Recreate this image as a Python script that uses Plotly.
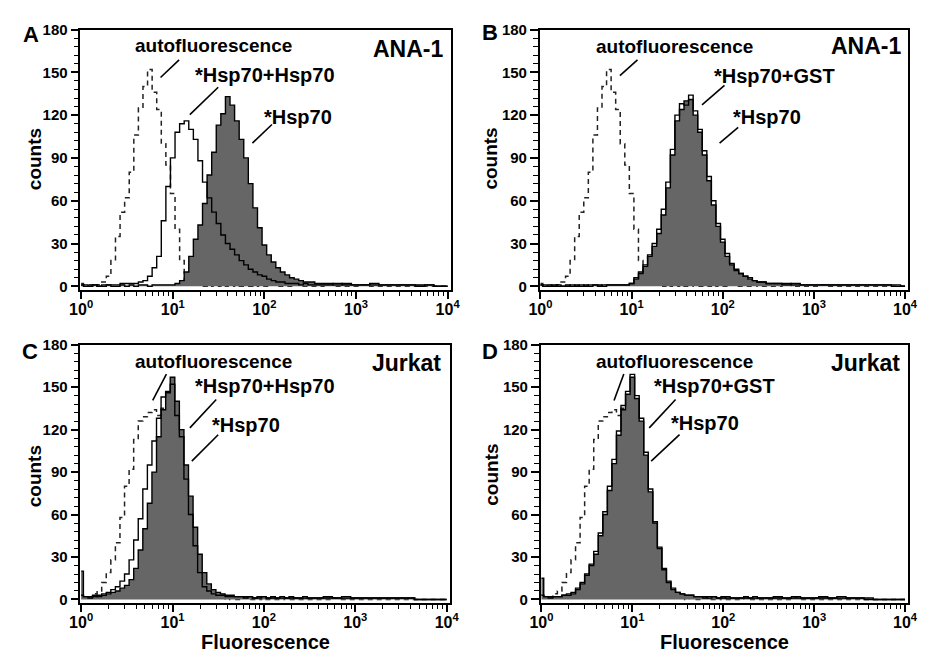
import plotly.graph_objects as go

# ---------------- data ----------------
# log10 of the fluorescence channel centres
LOG_CH = [0.00, 0.05, 0.10, 0.15, 0.20, 0.25, 0.30, 0.35, 0.40, 0.45,
          0.50, 0.55, 0.60, 0.65, 0.70, 0.75, 0.80, 0.85, 0.90, 0.95,
          1.00, 1.05, 1.10, 1.15, 1.20, 1.25, 1.30, 1.35, 1.40, 1.45,
          1.50, 1.55, 1.60, 1.65, 1.70, 1.75, 1.80, 1.85, 1.90, 1.95,
          2.00, 2.05, 2.10, 2.15, 2.20, 2.25, 2.30, 2.35, 2.40, 2.45,
          2.50, 2.60, 2.70, 2.80, 2.90, 3.00, 3.10, 3.20, 3.30, 3.40,
          3.50, 3.60, 3.70, 3.80, 3.90, 4.00]

AUTO_ANA1 = [2, 1, 1, 0, 1, 3, 7, 18, 35, 52,
             62, 80, 106, 125, 140, 152, 136, 124, 100, 85,
             65, 40, 18, 5, 2, 1, 1, 0, 1, 0,
             0, 1, 0, 0, 1, 0, 0, 0, 1, 0,
             0, 0, 1, 0, 0, 0, 0, 1, 0, 0,
             0, 0, 1, 0, 0, 0, 1, 0, 0, 0,
             0, 0, 0, 0, 0, 0]

A_HSP70_HSP70 = [1, 1, 0, 1, 0, 1, 1, 1, 1, 2,
                 2, 2, 2, 3, 4, 7, 13, 21, 46, 70,
                 90, 108, 114, 116, 110, 103, 88, 73, 62, 52,
                 44, 36, 30, 26, 22, 18, 15, 12, 10, 8,
                 7, 5, 4, 3, 3, 2, 2, 2, 1, 2,
                 1, 1, 1, 2, 1, 1, 1, 2, 1, 1,
                 1, 1, 0, 1, 0, 0]

A_HSP70 = [1, 0, 0, 1, 0, 0, 1, 0, 0, 1,
           0, 1, 0, 1, 1, 0, 1, 1, 1, 1,
           1, 2, 4, 10, 21, 33, 43, 58, 78, 94,
           113, 121, 133, 127, 116, 103, 90, 72, 55, 41,
           29, 22, 17, 13, 10, 8, 6, 5, 4, 3,
           3, 2, 2, 1, 2, 1, 1, 1, 1, 1,
           1, 1, 1, 1, 0, 0]

B_HSP70_GST = [1, 1, 0, 0, 1, 0, 0, 1, 0, 1,
               0, 1, 1, 0, 1, 1, 1, 1, 1, 1,
               2, 6, 10, 15, 22, 30, 40, 54, 73, 96,
               120, 128, 127, 134, 123, 110, 95, 77, 60, 44,
               33, 23, 16, 12, 9, 7, 6, 4, 3, 3,
               2, 2, 1, 2, 1, 1, 1, 1, 1, 1,
               1, 1, 1, 1, 1, 0]

B_HSP70 = [1, 0, 0, 1, 0, 0, 1, 0, 1, 0,
           1, 0, 1, 1, 0, 1, 1, 1, 1, 1,
           2, 5, 9, 14, 21, 28, 37, 50, 69, 92,
           116, 124, 130, 131, 120, 108, 92, 74, 57, 42,
           31, 21, 15, 11, 9, 7, 5, 4, 3, 3,
           2, 2, 2, 1, 1, 1, 1, 1, 1, 1,
           1, 1, 1, 1, 0, 0]

AUTO_JURKAT = [3, 2, 2, 4, 6, 12, 19, 28, 40, 58,
               80, 92, 113, 126, 129, 132, 134, 130, 135, 126,
               111, 89, 61, 37, 19, 10, 5, 3, 2, 1,
               1, 1, 0, 1, 0, 0, 1, 0, 0, 0,
               1, 0, 0, 0, 0, 1, 0, 0, 0, 0,
               0, 0, 0, 1, 0, 0, 0, 0, 0, 0,
               0, 0, 0, 0, 0, 0]

C_HSP70_HSP70 = [3, 2, 1, 3, 2, 4, 5, 7, 9, 13,
                 18, 28, 42, 57, 78, 95, 112, 128, 143, 147,
                 152, 130, 115, 85, 60, 38, 19, 9, 6, 4,
                 3, 3, 2, 2, 2, 2, 1, 2, 1, 1,
                 2, 1, 1, 1, 2, 1, 1, 1, 1, 2,
                 1, 1, 1, 1, 2, 1, 1, 1, 1, 1,
                 1, 1, 0, 0, 0, 0]

C_HSP70 = [20, 2, 2, 2, 3, 3, 4, 5, 6, 8,
           10, 14, 22, 35, 50, 68, 90, 115, 134, 146,
           157, 140, 120, 95, 73, 51, 32, 19, 11, 7,
           5, 4, 3, 3, 2, 2, 2, 2, 1, 2,
           2, 1, 2, 1, 1, 1, 2, 1, 1, 1,
           1, 1, 2, 1, 1, 1, 1, 1, 1, 1,
           1, 1, 0, 0, 0, 0]

D_HSP70_GST = [3, 2, 1, 2, 2, 3, 4, 5, 8, 12,
               18, 25, 34, 47, 62, 80, 99, 119, 137, 147,
               159, 144, 128, 104, 78, 55, 37, 22, 13, 8,
               5, 4, 3, 3, 2, 2, 1, 2, 2, 1,
               1, 2, 1, 1, 1, 1, 1, 2, 1, 1,
               1, 1, 1, 2, 1, 1, 1, 1, 2, 1,
               1, 1, 0, 0, 0, 0]

D_HSP70 = [15, 2, 2, 2, 2, 3, 3, 4, 7, 11,
           17, 24, 32, 45, 60, 77, 96, 116, 134, 145,
           157, 142, 126, 102, 76, 54, 36, 21, 12, 7,
           5, 4, 3, 3, 2, 2, 2, 1, 2, 1,
           2, 1, 1, 1, 1, 2, 1, 1, 1, 1,
           1, 2, 1, 1, 1, 1, 2, 1, 1, 1,
           1, 0, 0, 0, 0, 0]

Y_TICKS = [0, 30, 60, 90, 120, 150, 180]
X_TICKS = [1, 10, 100, 1000, 10000]
X_TICKTEXT = ["10<sup>0</sup>", "10<sup>1</sup>", "10<sup>2</sup>",
              "10<sup>3</sup>", "10<sup>4</sup>"]

# ---------------- figure ----------------
W, H = 928, 655
FONT = "Liberation Sans, Arial, sans-serif"


def px(x):
    return x / W


def py(y):
    return 1 - y / H


x_vals = [10 ** e for e in LOG_CH]
minor_x = [m * 10 ** k for k in range(4) for m in range(2, 10)]

panels = [
    dict(auto=AUTO_ANA1, open=A_HSP70_HSP70, filled=A_HSP70, xd=(71, 450), yd=(21, 287)),
    dict(auto=AUTO_ANA1, open=B_HSP70_GST, filled=B_HSP70, xd=(541, 918), yd=(21, 287)),
    dict(auto=AUTO_JURKAT, open=C_HSP70_HSP70, filled=C_HSP70, xd=(71, 449), yd=(343, 607)),
    dict(auto=AUTO_JURKAT, open=D_HSP70_GST, filled=D_HSP70, xd=(542, 918), yd=(343, 607)),
]

fig = go.Figure()
layout = {}
for i, p in enumerate(panels):
    s = "" if i == 0 else str(i + 1)
    xa, ya = "x" + s, "y" + s
    # autofluorescence first so the filled histogram hides it where they overlap
    fig.add_trace(go.Scatter(
        x=x_vals, y=p["auto"], xaxis=xa, yaxis=ya, mode="lines",
        line=dict(color="#222222", width=1.5, shape="hvh", dash="5px,4px"),
        hoverinfo="skip", showlegend=False))
    fig.add_trace(go.Scatter(
        x=x_vals, y=p["filled"], xaxis=xa, yaxis=ya, mode="lines",
        line=dict(color="black", width=1.4, shape="hvh"),
        fill="tozeroy", fillcolor="#666666", hoverinfo="skip", showlegend=False))
    fig.add_trace(go.Scatter(
        x=x_vals, y=p["open"], xaxis=xa, yaxis=ya, mode="lines",
        line=dict(color="black", width=1.4, shape="hvh"),
        hoverinfo="skip", showlegend=False))

    layout["xaxis" + s] = dict(
        domain=[px(p["xd"][0]), px(p["xd"][1])], anchor=ya, type="log",
        range=[-0.008, 4.035], showline=True, linecolor="black", linewidth=1.6,
        mirror=True, ticks="outside", ticklen=7, tickwidth=1.5, tickcolor="black",
        tickmode="array", tickvals=X_TICKS, ticktext=X_TICKTEXT,
        tickfont=dict(family=FONT, size=16, color="black", weight="bold"),
        ticklabelstandoff=-3,
        showgrid=False, zeroline=False,
        minor=dict(ticks="outside", ticklen=4, tickwidth=1.3, tickcolor="black",
                   tickmode="array", tickvals=minor_x, showgrid=False))
    layout["yaxis" + s] = dict(
        domain=[py(p["yd"][1]), py(p["yd"][0])], anchor=xa,
        range=[-2.5, 180], showline=True, linecolor="black", linewidth=1.6,
        mirror=True, ticks="outside", ticklen=8, tickwidth=1.5, tickcolor="black",
        tickmode="array", tickvals=Y_TICKS,
        tickfont=dict(family=FONT, size=15, color="black", weight="bold"),
        showgrid=False, zeroline=False,
        minor=dict(ticks="outside", ticklen=5, tickwidth=1.2, tickcolor="black",
                   dtick=6, tick0=0, showgrid=False))

# text labels: (text, x_px, y_px, size, xanchor, yanchor, angle)
LABELS = [
    ("A", 20, 26, 22, "center", "middle", 0),
    ("autofluorescence", 207, 37, 19, "center", "middle", 0),
    ("ANA-1", 443, 41, 23, "right", "middle", 0),
    ("*Hsp70+Hsp70", 260, 67, 20, "center", "middle", 0),
    ("*Hsp70", 294, 110, 20, "center", "middle", 0),
    ("counts", 24, 153, 19, "center", "middle", -90),

    ("B", 490, 24, 22, "center", "middle", 0),
    ("autofluorescence", 679, 38, 19, "center", "middle", 0),
    ("ANA-1", 912, 38, 23, "right", "middle", 0),
    ("*Hsp70+GST", 781, 68, 20, "center", "middle", 0),
    ("*Hsp70", 773, 110, 20, "center", "middle", 0),
    ("counts", 491, 153, 19, "center", "middle", -90),

    ("C", 19, 350, 22, "center", "middle", 0),
    ("autofluorescence", 207, 360, 19, "center", "middle", 0),
    ("Jurkat", 441, 362, 23, "right", "middle", 0),
    ("*Hsp70+Hsp70", 260, 385, 20, "center", "middle", 0),
    ("*Hsp70", 240, 425, 20, "center", "middle", 0),
    ("counts", 24, 477, 19, "center", "middle", -90),
    ("Fluorescence", 260, 659, 20, "center", "bottom", 0),

    ("D", 490, 350, 22, "center", "middle", 0),
    ("autofluorescence", 679, 360, 19, "center", "middle", 0),
    ("Jurkat", 911, 362, 23, "right", "middle", 0),
    ("*Hsp70+GST", 720, 385, 20, "center", "middle", 0),
    ("*Hsp70", 710, 423, 20, "center", "middle", 0),
    ("counts", 492, 476, 19, "center", "middle", -90),
    ("Fluorescence", 730, 659, 20, "center", "bottom", 0),
]

LEADERS = [
    (172, 52, 153, 70), (212, 80, 183, 108), (267, 118, 247, 137),
    (641, 52, 623, 68), (730, 78, 707, 98), (744, 121, 725, 137),
    (159, 373, 145, 400), (210, 399, 183, 428), (212, 435, 185, 462),
    (627, 373, 617, 400), (680, 399, 653, 428), (684, 435, 655, 462),
]

annotations = []
for text, x, y, size, xanc, yanc, ang in LABELS:
    annotations.append(dict(
        text=text, x=px(x), y=py(y), xref="paper", yref="paper",
        xanchor=xanc, yanchor=yanc, showarrow=False, textangle=ang,
        borderpad=0,
        font=dict(family=FONT, size=size, color="black", weight="bold")))

shapes = []
for x0, y0, x1, y1 in LEADERS:
    shapes.append(dict(type="line", xref="paper", yref="paper",
                       x0=px(x0), y0=py(y0), x1=px(x1), y1=py(y1),
                       line=dict(color="black", width=1.6)))

fig.update_layout(
    width=W, height=H, margin=dict(l=0, r=0, t=0, b=0),
    paper_bgcolor="white", plot_bgcolor="white",
    showlegend=False, annotations=annotations, shapes=shapes,
    **layout)

fig.write_html("out.html")
